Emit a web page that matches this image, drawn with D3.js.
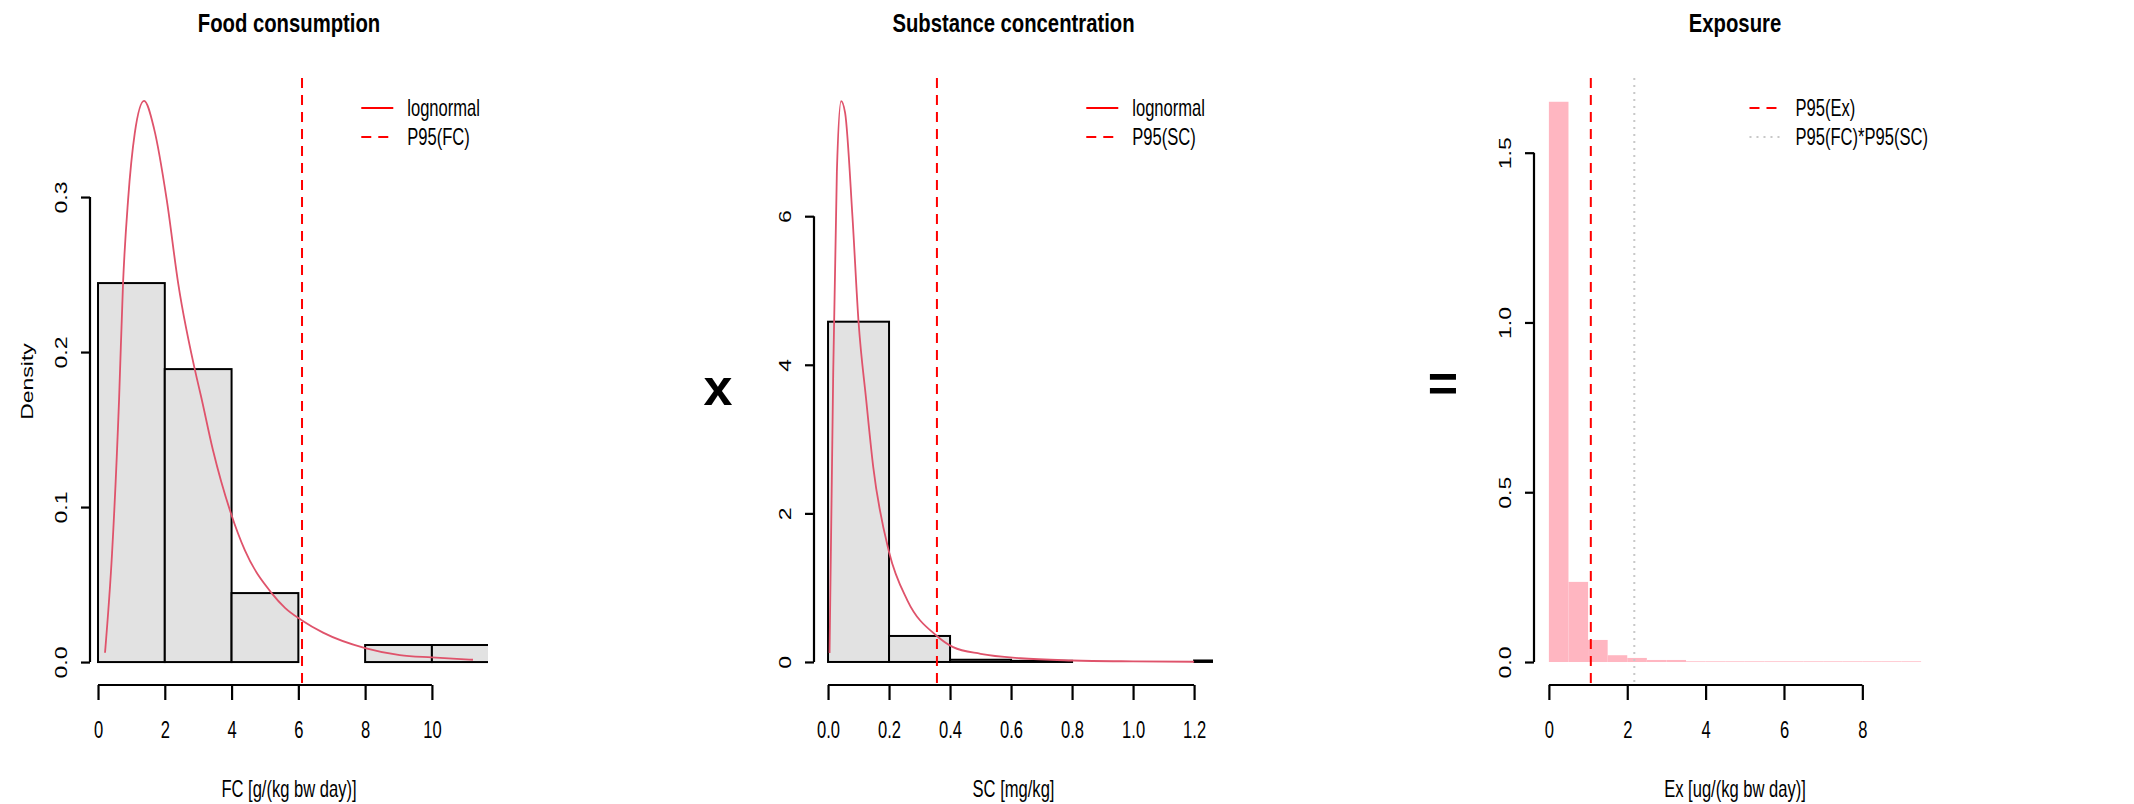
<!DOCTYPE html>
<html>
<head>
<meta charset="utf-8">
<script src="https://cdn.jsdelivr.net/npm/d3@7"></script>
<style>
body { margin:0; background:#fff; }
text { font-family: "Liberation Sans", Arial, sans-serif; fill:#000; }
</style>
</head>
<body>
<svg id="chart" width="2134" height="804"></svg>
<script>
// --- Food consumption (histogram density per bin + fitted lognormal)
var fcBreaks  = [0, 2, 4, 6, 8, 10, 12]
var fcDensity = [0.2445, 0.189, 0.0445, 0, 0.011, 0.011]
var fcCurveX  = [0.21, 0.42, 0.63, 0.75, 0.9, 1.1, 1.38, 1.68, 2.06, 2.4, 2.96, 3.08, 3.44, 3.98, 4.4, 5.2, 5.6, 6.1, 6.74, 8.0, 9.04, 10.0, 11.23]
var fcCurveY  = [0.006, 0.07, 0.169, 0.2445, 0.298, 0.341, 0.362, 0.344, 0.298, 0.2445, 0.183, 0.172, 0.137, 0.096, 0.072, 0.0445, 0.035, 0.027, 0.019, 0.009, 0.0045, 0.003, 0.0015]
var fcP95     = 6.11
var fcXTicks  = [0, 2, 4, 6, 8, 10]
var fcYTicks  = [0, 0.1, 0.2, 0.3]

// --- Substance concentration
var scBreaks  = [0, 0.2, 0.4, 0.6, 0.8, 1.0, 1.2, 1.4]
var scDensity = [4.58, 0.35, 0.03, 0.015, 0, 0, 0.02]
var scCurveX  = [0.005, 0.017, 0.029, 0.043, 0.056, 0.08, 0.10, 0.125, 0.148, 0.2, 0.26, 0.357, 0.41, 0.5, 0.63, 0.8, 1.0, 1.2]
var scCurveY  = [0.12, 3.9, 6.6, 7.55, 7.39, 6.0, 4.58, 3.53, 2.63, 1.48, 0.83, 0.35, 0.2, 0.11, 0.05, 0.02, 0.008, 0.003]
var scP95     = 0.357
var scXTicks  = [0, 0.2, 0.4, 0.6, 0.8, 1.0, 1.2]
var scYTicks  = [0, 2, 4, 6]

// --- Exposure
var exBreaks  = [0, 0.5, 1, 1.5, 2, 2.5, 3, 3.5, 4, 4.5, 5, 5.5, 6, 6.5, 7, 7.5, 8, 8.5, 9, 9.5]
var exDensity = [1.65, 0.236, 0.065, 0.02, 0.012, 0.006, 0.006, 0.002, 0.002, 0.002, 0.002, 0.002, 0.002, 0.002, 0.002, 0.002, 0.002, 0.002, 0.002]
var exP95     = 1.07
var exP95prod = 2.18
var exXTicks  = [0, 2, 4, 6, 8]
var exYTicks  = [0, 0.5, 1.0, 1.5]

var SX = 0.72      // horizontal squeeze of the original picture
var FS = 23        // base font size
var DASH = "10,7"

var panels = [
    { title:"Food consumption", xlab:"FC [g/(kg bw day)]", ylab:"Density",
      box:{left:90, right:488, top:78, bottom:685},
      xDomain:[-0.24, 11.68], yDomain:[-0.0148, 0.3768],
      breaks:fcBreaks, dens:fcDensity, curveX:fcCurveX, curveY:fcCurveY,
      xTicks:fcXTicks, yTicks:fcYTicks, xFormat:d3.format("d"), yFormat:d3.format(".1f"),
      fill:"#e2e2e2", stroke:"#000",
      vlines:[{x:fcP95, color:"red", dash:DASH}],
      legend:[{label:"lognormal", color:"red", dash:null}, {label:"P95(FC)", color:"red", dash:DASH}] },
    { title:"Substance concentration", xlab:"SC [mg/kg]", ylab:null,
      box:{left:814, right:1213, top:78, bottom:685},
      xDomain:[-0.046, 1.262], yDomain:[-0.31, 7.86],
      breaks:scBreaks, dens:scDensity, curveX:scCurveX, curveY:scCurveY,
      xTicks:scXTicks, yTicks:scYTicks, xFormat:d3.format(".1f"), yFormat:d3.format("d"),
      fill:"#e2e2e2", stroke:"#000",
      vlines:[{x:scP95, color:"red", dash:DASH}],
      legend:[{label:"lognormal", color:"red", dash:null}, {label:"P95(SC)", color:"red", dash:DASH}] },
    { title:"Exposure", xlab:"Ex [ug/(kg bw day)]", ylab:null,
      box:{left:1534, right:1936, top:78, bottom:685},
      xDomain:[-0.38, 9.88], yDomain:[-0.0677, 1.72],
      breaks:exBreaks, dens:exDensity, curveX:null, curveY:null,
      xTicks:exXTicks, yTicks:exYTicks, xFormat:d3.format("d"), yFormat:d3.format(".1f"),
      fill:"#ffb6c1", stroke:null,
      vlines:[{x:exP95, color:"red", dash:DASH}, {x:exP95prod, color:"#c8c8c8", dash:"2,5"}],
      legend:[{label:"P95(Ex)", color:"red", dash:DASH}, {label:"P95(FC)*P95(SC)", color:"#c8c8c8", dash:"2,5"}] }
]

var svg = d3.select("#chart")
svg.append("rect").attr("width", 2134).attr("height", 804).attr("fill", "#fff")

var squeezed = function(g, str, x, y, size, sx, bold, rotate) {
    return g.append("text")
        .attr("transform", "translate("+x+","+y+") scale("+sx+",1)" + (rotate ? " rotate(-90)" : ""))
        .attr("text-anchor", "middle")
        .attr("dy", "0.35em")
        .style("font-size", size+"px")
        .style("font-weight", bold ? "bold" : "normal")
        .text(str)
}

var drawBars = function(g, p, xScale, yScale) {
    var bins = p.dens.map(function(d, i) { return {x0:p.breaks[i], x1:p.breaks[i+1], d:d} })
    g.selectAll("rect.bar")
      .data(bins)
      .enter()
      .append("rect")
        .attr("class", "bar")
        .attr("x", function(b) { return xScale(b.x0) })
        .attr("width", function(b) { return xScale(b.x1) - xScale(b.x0) })
        .attr("y", function(b) { return yScale(b.d) })
        .attr("height", function(b) { return yScale(0) - yScale(b.d) })
        .attr("fill", p.fill)
        .attr("stroke", p.stroke ? p.stroke : "none")
        .attr("stroke-width", 2)
}

var drawCurve = function(g, p, xScale, yScale) {
    if (!p.curveX) return
    var pts = p.curveX.map(function(x, i) { return [x, p.curveY[i]] })
    var line = d3.line()
        .x(function(d) { return xScale(d[0]) })
        .y(function(d) { return yScale(d[1]) })
        .curve(d3.curveMonotoneX)
    g.append("path")
        .datum(pts)
        .attr("d", line)
        .attr("fill", "none")
        .attr("stroke", "#df536b")
        .attr("stroke-width", 1.8)
}

var drawAxes = function(g, p, xScale, yScale) {
    var b = p.box
    var xAxis = d3.axisBottom(xScale).tickValues(p.xTicks).tickFormat(p.xFormat).tickSize(15)
    var gx = g.append("g").attr("transform", "translate(0,"+b.bottom+")").call(xAxis)
    gx.attr("font-size", null).attr("font-family", null)
    gx.select(".domain").remove()
    gx.append("line")
        .attr("x1", xScale(p.xTicks[0])).attr("x2", xScale(p.xTicks[p.xTicks.length-1]))
        .attr("stroke", "#000").attr("stroke-width", 2.2)
    gx.selectAll(".tick line").attr("stroke", "#000").attr("stroke-width", 2.2)
    gx.selectAll(".tick text")
        .attr("y", 45).attr("dy", "0.35em")
        .attr("transform", "scale("+SX+",1)")
        .style("font-size", FS+"px")

    var yAxis = d3.axisLeft(yScale).tickValues(p.yTicks).tickFormat(p.yFormat).tickSize(9)
    var gy = g.append("g").attr("transform", "translate("+b.left+",0)").call(yAxis)
    gy.attr("font-size", null).attr("font-family", null)
    gy.select(".domain").remove()
    gy.append("line")
        .attr("y1", yScale(p.yTicks[0])).attr("y2", yScale(p.yTicks[p.yTicks.length-1]))
        .attr("stroke", "#000").attr("stroke-width", 2.2)
    gy.selectAll(".tick line").attr("stroke", "#000").attr("stroke-width", 2.2)
    gy.selectAll(".tick text")
        .attr("x", 0).attr("y", 0).attr("dy", "0.35em")
        .attr("text-anchor", "middle")
        .attr("transform", "translate(-29,0) scale("+SX+",1) rotate(-90)")
        .style("font-size", FS+"px")
}

var drawLegend = function(g, p) {
    var b = p.box
    var rows = [108, 137]
    var texts = p.legend.map(function(l, i) {
        return g.append("text")
            .attr("dy", "0.35em")
            .style("font-size", FS+"px")
            .text(l.label)
    })
    var maxW = d3.max(texts, function(t) { return t.node().getComputedTextLength() * SX })
    var textX = b.right - 8 - maxW
    var lineX1 = textX - 46, lineX2 = textX - 14
    texts.forEach(function(t, i) {
        t.attr("transform", "translate("+textX+","+rows[i]+") scale("+SX+",1)")
    })
    p.legend.forEach(function(l, i) {
        g.append("line")
            .attr("x1", lineX1).attr("x2", lineX2)
            .attr("y1", rows[i]).attr("y2", rows[i])
            .attr("stroke", l.color).attr("stroke-width", 2)
            .attr("stroke-dasharray", l.dash)
    })
}

var drawPanel = function(p, i) {
    var b = p.box
    var xScale = d3.scaleLinear().domain(p.xDomain).range([b.left, b.right])
    var yScale = d3.scaleLinear().domain(p.yDomain).range([b.bottom, b.top])

    svg.append("clipPath").attr("id", "clip"+i)
      .append("rect")
        .attr("x", b.left).attr("y", b.top)
        .attr("width", b.right - b.left).attr("height", b.bottom - b.top)

    var plot = svg.append("g").attr("clip-path", "url(#clip"+i+")")
    drawBars(plot, p, xScale, yScale)
    drawCurve(plot, p, xScale, yScale)
    p.vlines.forEach(function(v) {
        plot.append("line")
            .attr("x1", xScale(v.x)).attr("x2", xScale(v.x))
            .attr("y1", b.top).attr("y2", b.bottom)
            .attr("stroke", v.color).attr("stroke-width", 2)
            .attr("stroke-dasharray", v.dash)
    })

    drawAxes(svg.append("g"), p, xScale, yScale)
    drawLegend(svg.append("g"), p)

    var cx = (b.left + b.right) / 2
    squeezed(svg, p.title, cx, 23, 26, 0.78, true, false)
    squeezed(svg, p.xlab, cx, 789, FS, SX, false, false)
    if (p.ylab) squeezed(svg, p.ylab, 27, (b.top + b.bottom) / 2, FS, SX, false, true)
}

panels.forEach(drawPanel)

// operators between the panels
svg.append("text").attr("x", 718).attr("y", 388).attr("dy", "0.32em")
    .attr("text-anchor", "middle").style("font-size", "52px").style("font-weight", "bold").text("x")
svg.append("text").attr("x", 1443).attr("y", 383).attr("dy", "0.35em")
    .attr("text-anchor", "middle").style("font-size", "52px").style("font-weight", "bold").text("=")
</script>
</body>
</html>
